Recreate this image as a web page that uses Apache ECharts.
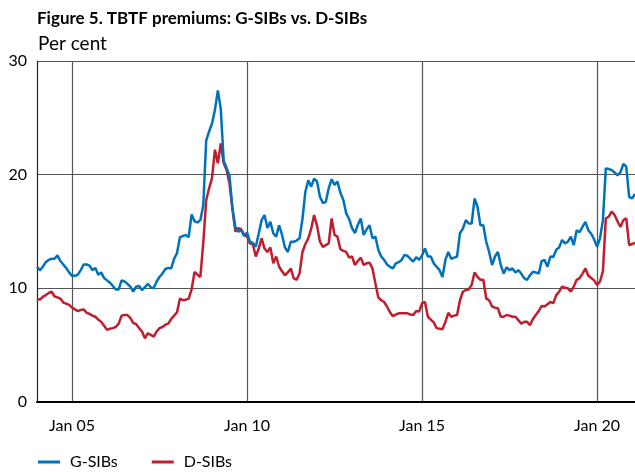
<!DOCTYPE html>
<html>
<head>
<meta charset="utf-8">
<script src="https://cdn.jsdelivr.net/npm/echarts@6/dist/echarts.min.js"></script>
<style>
  html, body { margin: 0; padding: 0; background: #fff; }
  #chart { width: 635px; height: 473px; }
</style>
</head>
<body>
<div id="chart"></div>
<script>
// monthly observations, Jan 2004 .. Feb 2021
var months = [];
for (var y = 2004; y <= 2021; y++) {
  for (var mo = 1; mo <= 12; mo++) {
    if (y === 2021 && mo > 2) break;
    months.push(y + '-' + (mo < 10 ? '0' + mo : mo));
  }
}

var tickMonths = ['2005-01', '2010-01', '2015-01', '2020-01'];
var tickLabels = ['Jan 05', 'Jan 10', 'Jan 15', 'Jan 20'];
var yTicks = [0, 10, 20, 30];

// G-SIBs, per cent
var gsibs = [
  11.9, 11.6, 11.9, 12.3, 12.5, 12.6, 12.6, 12.9, 12.4, 12.1, 11.8, 11.4,
  11.1, 11.1, 11.2, 11.6, 12.1, 12.1, 12.0, 11.6, 11.8, 11.2, 11.4, 10.9,
  10.7, 10.5, 10.2, 9.9, 9.9, 10.7, 10.6, 10.4, 10.15, 9.7, 10.15, 10.2,
  9.85, 10.1, 10.4, 10.1, 10.0, 10.6, 11.0, 11.3, 11.7, 11.8, 11.75, 12.6,
  13.1, 14.5, 14.6, 14.7, 14.5, 16.5, 15.9, 15.8, 16.0, 17.3, 23.0, 23.8,
  24.5, 25.7, 27.4, 25.8, 21.2, 20.6, 19.9, 17.0, 15.4, 15.0, 15.1, 14.6,
  14.9, 14.1, 14.0, 13.65, 14.8, 16.0, 16.45, 15.3, 15.85, 14.85, 14.55, 15.55,
  14.7, 13.6, 13.2, 14.1, 14.1, 14.2, 14.4, 16.1, 18.5, 19.5, 18.95, 19.65,
  19.4, 18.05, 17.5, 17.6, 18.8, 19.6, 19.1, 19.4, 18.4, 17.8, 16.6, 16.1,
  15.3, 14.85, 15.6, 16.15, 14.7, 15.2, 15.55, 14.4, 14.55, 13.4, 12.8, 12.5,
  12.1, 11.9, 11.75, 12.2, 12.3, 12.5, 12.95, 12.85, 12.6, 12.35, 12.75, 12.5,
  12.9, 13.5, 12.8, 12.8, 12.2, 11.9, 11.6, 11.0, 12.5, 13.2, 12.6, 12.7,
  12.8, 14.85, 15.25, 16.0, 15.7, 15.7, 17.9, 17.2, 15.55, 15.55, 14.1, 13.2,
  12.05, 12.8, 13.2, 12.05, 11.3, 11.85, 11.6, 11.75, 11.4, 11.6, 11.3, 10.9,
  10.75, 11.15, 11.45, 11.4, 11.3, 12.4, 12.5, 11.9, 12.8, 12.75, 13.4, 13.6,
  14.25, 13.95, 14.1, 14.55, 13.8, 15.1, 14.95, 15.4, 15.85, 15.1, 14.8, 14.3,
  13.65, 14.4, 16.0, 20.55, 20.5, 20.4, 20.2, 19.95, 20.2, 20.95, 20.7, 18.05,
  17.9, 18.3
];

// D-SIBs, per cent
var dsibs = [
  9.1, 9.0, 9.25, 9.4, 9.6, 9.7, 9.3, 9.2, 9.1, 8.75, 8.65, 8.55,
  8.3, 8.15, 8.0, 8.1, 8.15, 7.85, 7.75, 7.6, 7.5, 7.25, 7.05, 6.7,
  6.35, 6.45, 6.5, 6.6, 6.9, 7.6, 7.65, 7.65, 7.4, 6.95, 6.85, 6.5,
  6.2, 5.6, 6.05, 5.9, 5.75, 6.2, 6.5, 6.6, 6.8, 6.9, 7.3, 7.6,
  7.9, 9.1, 8.95, 9.0, 9.1, 9.9, 11.45, 11.2, 11.0, 14.0, 17.75, 18.8,
  19.7, 22.2, 21.0, 22.75, 21.0, 20.4, 19.2, 17.0, 15.0, 15.3, 15.2, 14.7,
  14.55, 13.95, 13.9, 12.8, 13.5, 14.4, 13.5, 13.2, 13.6, 12.2, 12.8, 11.9,
  11.5, 11.15, 11.4, 11.75, 10.9, 10.75, 11.3, 13.2, 13.9, 14.4, 15.25, 16.45,
  15.5, 14.1, 13.65, 13.8, 13.95, 16.15, 14.7, 14.55, 13.45, 13.3, 13.2, 12.7,
  12.8, 12.05, 12.4, 12.7, 12.05, 12.2, 12.25, 11.75, 10.45, 9.2, 8.95, 8.8,
  8.4, 7.9, 7.55, 7.7, 7.8, 7.8, 7.8, 7.8, 7.7, 7.65, 8.0, 7.95,
  8.7, 8.8, 7.5, 7.25, 7.0, 6.5, 6.45, 6.4, 7.05, 7.85, 7.5, 7.6,
  7.65, 8.95, 9.7, 9.85, 9.9, 10.3, 11.4, 11.0, 10.75, 10.75, 9.1, 8.95,
  8.4, 8.3, 8.25, 7.5, 7.5, 7.65, 7.6, 7.5, 7.5, 7.2, 6.9, 7.05,
  7.05, 6.75, 7.3, 7.65, 8.0, 8.45, 8.4, 8.6, 8.8, 8.7, 9.4, 9.7,
  10.15, 10.05, 10.0, 9.7, 10.15, 10.75, 10.9, 11.3, 11.75, 11.1, 10.9, 10.7,
  10.3, 10.6, 11.5, 16.15, 16.3, 16.75, 16.45, 15.9, 15.4, 16.0, 16.15, 13.8,
  13.9, 14.0
];

var chart = echarts.init(document.getElementById('chart'));

// only January of 05, 10, 15, 20 gets a label and a vertical line
var isTick = function (idx, val) {
  return tickMonths.indexOf(val) >= 0;
};

var option = {
  animation: false,
  textStyle: { fontFamily: 'Lato' },
  title: [{
    text: 'Figure 5. TBTF premiums: G-SIBs vs. D-SIBs',
    left: 37,
    top: 10,
    padding: 0,
    textStyle: { fontFamily: 'Lato', fontWeight: 'bold', fontSize: 17, color: '#000' }
  }, {
    text: 'Per cent',
    left: 38,
    top: 34,
    padding: 0,
    textStyle: { fontFamily: 'Lato', fontWeight: 'normal', fontSize: 19, color: '#000' }
  }],
  legend: {
    left: 38,
    top: 454,
    padding: 0,
    icon: 'rect',
    itemWidth: 22,
    itemHeight: 3,
    itemGap: 34,
    textStyle: { fontFamily: 'Lato', fontSize: 16, color: '#000', padding: [0, 0, 0, 5] },
    data: ['G-SIBs', 'D-SIBs']
  },
  grid: {
    left: 37,
    top: 61,
    width: 599,
    height: 341
  },
  xAxis: {
    type: 'category',
    boundaryGap: false,
    data: months,
    axisLine: { lineStyle: { color: '#000', width: 2 } },
    axisTick: { show: false },
    axisLabel: {
      interval: isTick,
      margin: 16,
      fontFamily: 'Lato',
      fontSize: 16,
      color: '#000',
      formatter: function (val) {
        var i = tickMonths.indexOf(val);
        return i >= 0 ? tickLabels[i] : '';
      }
    },
    splitLine: {
      show: true,
      interval: isTick,
      lineStyle: { color: '#555', width: 1.2 }
    }
  },
  yAxis: {
    type: 'value',
    min: yTicks[0],
    max: yTicks[yTicks.length - 1],
    interval: 10,
    axisLine: { show: true, lineStyle: { color: '#222', width: 1.2 } },
    axisTick: { show: false },
    axisLabel: { margin: 10, fontFamily: 'Lato', fontSize: 16, color: '#000' },
    splitLine: { lineStyle: { color: '#555', width: 1.2 } }
  },
  series: [{
    name: 'G-SIBs',
    type: 'line',
    data: gsibs,
    symbol: 'none',
    color: '#0072bc',
    lineStyle: { width: 2.5, color: '#0072bc' },
    z: 3
  }, {
    name: 'D-SIBs',
    type: 'line',
    data: dsibs,
    symbol: 'none',
    color: '#be1e2d',
    lineStyle: { width: 2.5, color: '#be1e2d' },
    z: 2
  }]
};

chart.setOption(option);
</script>
</body>
</html>
